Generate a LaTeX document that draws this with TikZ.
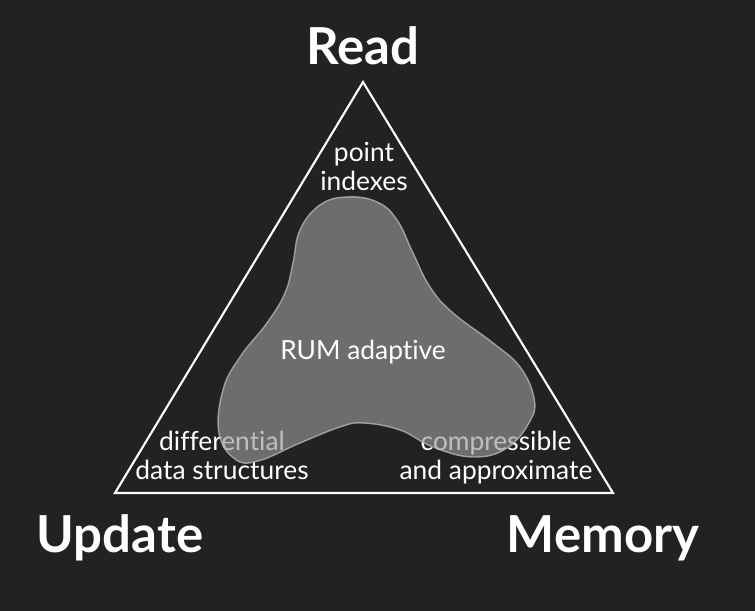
\documentclass[tikz,border=0pt]{standalone}
\usepackage{fontspec}
\setmainfont{Lato}[Ligatures=NoCommon]
\usetikzlibrary{positioning}
\definecolor{bgdark}{HTML}{222222}
\definecolor{blobgrey}{HTML}{9A9A9A}
\definecolor{blobedge}{HTML}{B4B4B4}

\begin{document}
\begin{tikzpicture}[x=0.02cm,y=-0.02cm]
	\tikzstyle{corner}=[font=\fontsize{29}{31}\selectfont\bfseries, text=white, inner sep=0pt]
	\tikzstyle{area}=[font=\fontsize{15}{17}\selectfont, text=white, align=center, inner sep=0pt]
		\fill[bgdark] (0,0) rectangle (755,611);
		\useasboundingbox (0,0) rectangle (755,611);
		% corners of the triangle
		\coordinate (r) at (363,82);
		\coordinate (u) at (115,493);
		\coordinate (m) at (613,493);
		\draw[white, line width=1.2pt] (r) -- (u) -- (m) -- cycle;
		\node[corner] (read) [above=0.34cm of r] {Read};
		\node[corner, anchor=base] (update) at (120,553) {Update};
		\node[corner, anchor=base] (memory) at (603,553) {Memory};
		% texts near the corners
		\node[area, anchor=base] (point) at (364,191) {point\\indexes};
		\node[area, anchor=base] (diff) at (222,480) {differential\\data structures};
		\node[area, anchor=base] (compr) at (496,480) {compressible\\and approximate};
		% the blob
		\draw[blobedge, draw opacity=0.8, fill=blobgrey, fill opacity=0.63, line width=0.8pt]
			plot[smooth cycle, tension=0.7] coordinates {(347,197) (377,202) (397,220) (413,253) (430,287) (453,313) (493,343) (520,367) (534,398) (530,421) (507,448) (473,457) (433,447) (400,430) (363,423) (340,427) (300,443) (258,461) (235,459) (219,433) (223,390) (240,357) (267,323) (285,293) (293,263) (300,230) (320,205)};
		\node[area, anchor=base] (rum) at (363,360) {RUM adaptive};
\end{tikzpicture}
\end{document}
